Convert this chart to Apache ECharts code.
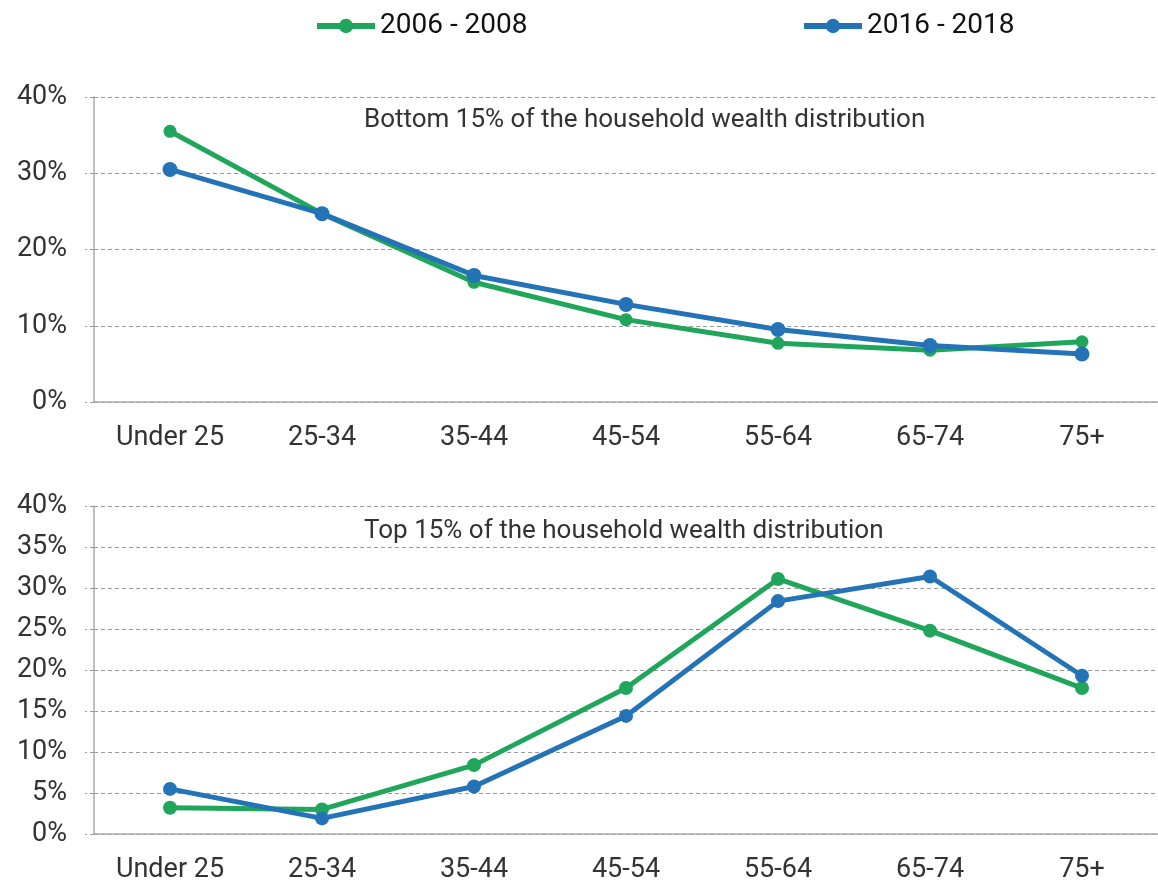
<!DOCTYPE html>
<html>
<head>
<meta charset="utf-8">
<script src="https://cdn.jsdelivr.net/npm/echarts@6/dist/echarts.min.js"></script>
<style>
  html, body { margin: 0; padding: 0; background: #fff; }
  #main { width: 1158px; height: 884px; }
</style>
</head>
<body>
<div id="main"></div>
<script>
const ageGroups = ['Under 25', '25-34', '35-44', '45-54', '55-64', '65-74', '75+'];
const seriesNames = ['2006 - 2008', '2016 - 2018'];

// bottom 15% of the wealth distribution (share, %)
const bottom2006 = [35.5, 24.7, 15.7, 10.8, 7.7, 6.8, 7.9];
const bottom2016 = [30.5, 24.7, 16.6, 12.8, 9.5, 7.4, 6.3];

// top 15% of the wealth distribution (share, %)
const top2006 = [3.2, 3.0, 8.4, 17.8, 31.1, 24.8, 17.8];
const top2016 = [5.5, 1.9, 5.8, 14.4, 28.4, 31.4, 19.3];

const GREEN = '#1fa65b';
const BLUE = '#2373b6';
const FONT = 'Roboto';

const chart = echarts.init(document.getElementById('main'), null, { renderer: 'canvas' });

function xAxisFor(gridIndex) {
  return {
    type: 'category',
    gridIndex: gridIndex,
    data: ageGroups,
    boundaryGap: true,
    axisLine: { lineStyle: { color: '#aaa', width: 1.5 } },
    axisTick: { length: 9, lineStyle: { color: '#aaa', width: 1.5 } },
    axisLabel: { color: '#333', fontSize: 27, fontFamily: FONT, margin: 23 },
    splitLine: { show: false }
  };
}

function yAxisFor(gridIndex, interval) {
  return {
    type: 'value',
    gridIndex: gridIndex,
    min: 0,
    max: 40,
    interval: interval,
    axisLine: { show: true, lineStyle: { color: '#aaa', width: 1.5 } },
    axisTick: { show: true, length: 9, lineStyle: { color: '#999', type: [4, 3] } },
    axisLabel: { color: '#333', fontSize: 27, fontFamily: FONT, margin: 27, formatter: '{value}%' },
    splitLine: { lineStyle: { color: '#999', type: [4, 3], width: 1 } }
  };
}

function lineSeries(name, data, color, idx, size) {
  return {
    name: name,
    type: 'line',
    xAxisIndex: idx,
    yAxisIndex: idx,
    data: data,
    symbol: 'circle',
    symbolSize: size,
    lineStyle: { color: color, width: 5 },
    itemStyle: { color: color },
    z: color === BLUE ? 3 : 2
  };
}

const legendBase = {
  top: 7,
  itemWidth: 58, itemHeight: 18, itemGap: 4,
  lineStyle: { width: 6 },
  textStyle: { fontSize: 28, color: '#111', fontFamily: FONT }
};

chart.setOption({
  animation: false,
  backgroundColor: '#fff',
  textStyle: { fontFamily: FONT },
  title: [
    {
      text: 'Bottom 15% of the household wealth distribution',
      left: 359, top: 102,
      textStyle: { fontSize: 26, fontWeight: 'normal', color: '#333', fontFamily: FONT }
    },
    {
      text: 'Top 15% of the household wealth distribution',
      left: 359, top: 513,
      textStyle: { fontSize: 26, fontWeight: 'normal', color: '#333', fontFamily: FONT }
    }
  ],
  legend: [
    Object.assign({ data: [seriesNames[0]], left: 309 }, legendBase),
    Object.assign({ data: [seriesNames[1]], left: 796 }, legendBase)
  ],
  grid: [
    { left: 94, right: -9, top: 97, height: 305 },
    { left: 94, right: -9, top: 506, height: 330 }
  ],
  xAxis: [xAxisFor(0), xAxisFor(1)],
  yAxis: [yAxisFor(0, 10), yAxisFor(1, 5)],
  series: [
    lineSeries(seriesNames[0], bottom2006, GREEN, 0, 13),
    lineSeries(seriesNames[1], bottom2016, BLUE, 0, 15),
    lineSeries(seriesNames[0], top2006, GREEN, 1, 14),
    lineSeries(seriesNames[1], top2016, BLUE, 1, 14)
  ]
});
</script>
</body>
</html>
